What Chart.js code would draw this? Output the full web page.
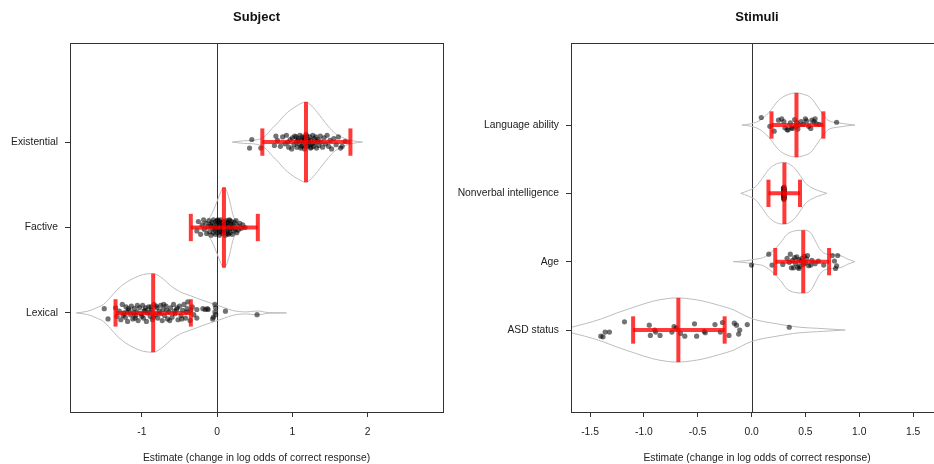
<!DOCTYPE html>
<html><head><meta charset="utf-8">
<script src="https://cdn.jsdelivr.net/npm/chart.js@4/dist/chart.umd.min.js"></script>
<style>
html,body{margin:0;padding:0;background:#fff;overflow:hidden;width:934px;height:464px;}
#p1{position:absolute;left:0;top:0;width:467px;height:464px;}
#p2{position:absolute;left:440px;top:0;width:527px;height:464px;}
canvas{display:block;}
</style></head><body>
<div id="p1"><canvas id="c1" width="467" height="464"></canvas></div>
<div id="p2"><canvas id="c2" width="527" height="464"></canvas></div>
<script>
// ---------------- DATA ----------------
const xAxisTitle = "Estimate (change in log odds of correct response)";

// Subject panel
const subjectTitle = "Subject";
const subjectCategories = ["Lexical", "Factive", "Existential"];
const subjectMeans = [-0.85, 0.09, 1.18];
const subjectCILow = [-1.35, -0.35, 0.60];
const subjectCIHigh = [-0.35, 0.54, 1.77];
const subjectTicks = [-1, 0, 1, 2];
const subjectTickLabels = ["-1", "0", "1", "2"];

// violin outlines: [estimate, half-width]
const violinLexical = [[-1.87,0],[-1.72,0.02],[-1.60,0.06],[-1.51,0.10],[-1.42,0.18],[-1.33,0.27],[-1.22,0.35],[-1.10,0.41],[-0.98,0.45],[-0.85,0.46],[-0.72,0.40],[-0.62,0.32],[-0.50,0.25],[-0.35,0.20],[-0.20,0.15],[-0.10,0.12],[0.00,0.09],[0.10,0.06],[0.20,0.03],[0.30,0.015],[0.40,0.012],[0.48,0.02],[0.56,0.022],[0.64,0.008],[0.75,0.003],[0.92,0]];
const violinFactive = [[-0.30,0],[-0.22,0.02],[-0.15,0.06],[-0.09,0.13],[-0.04,0.22],[0.00,0.31],[0.04,0.40],[0.09,0.47],[0.13,0.42],[0.17,0.30],[0.20,0.18],[0.23,0.10],[0.27,0.05],[0.32,0.02],[0.40,0]];
const violinExistential = [[0.20,0],[0.35,0.015],[0.55,0.03],[0.65,0.08],[0.73,0.16],[0.82,0.24],[0.90,0.32],[1.05,0.42],[1.18,0.47],[1.28,0.40],[1.39,0.28],[1.48,0.18],[1.57,0.10],[1.70,0.04],[1.80,0.015],[1.93,0]];

// jittered points: [estimate, vertical jitter]
const pointsLexical = [[-1.50,0.05],[-1.45,-0.07],[-1.35,0.06],[-1.33,-0.04],[-1.30,0.02],[-1.28,-0.08],[-1.26,0.10],[-1.24,0.00],[-1.22,-0.05],[-1.21,0.07],[-1.19,-0.10],[-1.17,0.03],[-1.15,-0.02],[-1.14,0.08],[-1.12,-0.07],[-1.10,0.05],[-1.08,-0.03],[-1.07,0.01],[-1.05,-0.09],[-1.03,0.06],[-1.01,-0.01],[-0.99,0.09],[-0.98,-0.06],[-0.96,0.03],[-0.94,-0.10],[-0.93,0.00],[-0.91,0.07],[-0.89,-0.04],[-0.87,0.04],[-0.86,-0.08],[-0.84,0.10],[-0.82,-0.02],[-0.80,0.06],[-0.79,-0.06],[-0.77,0.02],[-0.75,0.09],[-0.73,-0.09],[-0.72,0.04],[-0.70,-0.03],[-0.68,0.08],[-0.66,-0.07],[-0.64,0.01],[-0.62,0.06],[-0.60,-0.05],[-0.58,0.10],[-0.56,-0.01],[-0.54,0.04],[-0.52,-0.08],[-0.50,0.08],[-0.48,-0.03],[-0.46,0.03],[-0.44,0.10],[-0.42,-0.06],[-0.40,0.05],[-0.39,0.13],[-0.36,-0.09],[-0.33,0.07],[-0.31,-0.02],[-0.27,0.04],[-0.27,-0.06],[-0.19,0.05],[-0.16,0.04],[-0.13,0.05],[-0.12,0.04],[-0.05,-0.05],[-0.03,0.10],[-0.02,0.06],[-0.03,0.01],[-0.02,-0.02],[-0.06,-0.07],[0.11,0.02],[0.53,-0.02],[-1.25,-0.03],[-1.18,0.05],[-1.11,0.00],[-1.06,0.09],[-1.00,-0.04],[-0.95,0.06],[-0.90,0.01],[-0.85,-0.05],[-0.81,0.08],[-0.76,-0.01],[-0.71,0.10],[-0.67,0.03],[-0.63,-0.09],[-0.57,0.02],[-0.53,0.06],[-0.47,-0.07],[-0.41,0.01],[-0.35,0.03],[-1.20,0.01],[-1.09,-0.06],[-0.97,0.02],[-0.88,0.07]];
const pointsFactive = [[-0.27,-0.04],[-0.25,0.07],[-0.22,-0.08],[-0.20,0.03],[-0.18,0.09],[-0.17,-0.02],[-0.15,0.05],[-0.14,-0.07],[-0.12,0.01],[-0.11,0.08],[-0.10,-0.05],[-0.09,0.04],[-0.08,-0.09],[-0.07,0.06],[-0.06,-0.01],[-0.05,0.09],[-0.05,-0.06],[-0.04,0.02],[-0.03,-0.03],[-0.02,0.07],[-0.02,-0.08],[-0.01,0.04],[0.00,-0.02],[0.00,0.08],[0.01,-0.06],[0.02,0.01],[0.02,0.05],[0.03,-0.09],[0.04,0.03],[0.04,-0.04],[0.05,0.09],[0.06,-0.01],[0.06,0.06],[0.07,-0.07],[0.08,0.02],[0.08,-0.03],[0.09,0.07],[0.10,-0.05],[0.10,0.04],[0.11,-0.09],[0.12,0.00],[0.12,0.08],[0.13,-0.04],[0.14,0.05],[0.14,-0.07],[0.15,0.02],[0.16,-0.02],[0.16,0.09],[0.17,-0.06],[0.18,0.04],[0.18,-0.01],[0.19,0.07],[0.20,-0.08],[0.21,0.03],[0.22,-0.04],[0.23,0.06],[0.24,-0.02],[0.25,0.08],[0.26,-0.06],[0.27,0.02],[0.28,-0.03],[0.30,0.05],[0.32,-0.01],[0.34,0.03],[0.37,0.00],[0.07,0.01],[0.11,0.03],[0.13,0.06],[0.05,-0.05],[0.09,-0.02],[0.15,-0.08],[0.03,0.07],[-0.03,0.00],[0.01,0.09],[0.20,0.01],[-0.08,0.02],[0.17,0.08],[0.10,0.00]];
const pointsExistential = [[0.43,-0.07],[0.46,0.03],[0.58,-0.07],[0.76,-0.04],[0.78,0.07],[0.80,0.02],[0.84,-0.05],[0.87,0.06],[0.90,-0.02],[0.92,0.08],[0.94,0.00],[0.95,-0.06],[0.97,0.03],[0.99,-0.08],[1.00,0.05],[1.02,-0.03],[1.03,0.07],[1.05,0.00],[1.05,0.06],[1.06,-0.06],[1.07,0.02],[1.08,0.04],[1.09,-0.02],[1.10,0.08],[1.11,-0.07],[1.12,0.02],[1.12,-0.05],[1.13,0.06],[1.14,-0.04],[1.15,0.01],[1.15,0.05],[1.16,-0.08],[1.17,0.05],[1.18,-0.01],[1.18,0.09],[1.19,0.07],[1.20,-0.05],[1.20,0.01],[1.21,0.03],[1.22,-0.03],[1.22,0.00],[1.23,0.06],[1.24,-0.07],[1.25,0.02],[1.25,-0.06],[1.26,-0.02],[1.27,0.08],[1.28,-0.05],[1.29,0.04],[1.30,-0.01],[1.31,0.06],[1.32,-0.07],[1.33,0.01],[1.34,0.03],[1.35,-0.04],[1.37,0.07],[1.38,0.00],[1.40,-0.06],[1.42,0.05],[1.44,-0.02],[1.46,0.08],[1.48,-0.05],[1.50,0.02],[1.52,-0.08],[1.55,0.04],[1.58,-0.03],[1.61,0.06],[1.64,-0.07],[1.66,-0.05],[1.70,0.01]];

// Stimuli panel
const stimuliTitle = "Stimuli";
const stimuliCategories = ["ASD status", "Age", "Nonverbal intelligence", "Language ability"];
const stimuliMeans = [-0.68, 0.48, 0.305, 0.417];
const stimuliCILow = [-1.10, 0.22, 0.157, 0.185];
const stimuliCIHigh = [-0.25, 0.72, 0.45, 0.667];
const stimuliTicks = [-1.5, -1.0, -0.5, 0.0, 0.5, 1.0, 1.5];
const stimuliTickLabels = ["-1.5", "-1.0", "-0.5", "0.0", "0.5", "1.0", "1.5"];

const violinASD = [[-1.70,0.03],[-1.55,0.09],[-1.40,0.16],[-1.25,0.25],[-1.08,0.34],[-0.92,0.42],[-0.78,0.46],[-0.68,0.47],[-0.55,0.45],[-0.47,0.43],[-0.30,0.36],[-0.16,0.29],[-0.05,0.20],[0.06,0.14],[0.20,0.10],[0.31,0.07],[0.45,0.04],[0.61,0.025],[0.87,0]];
const violinAge = [[-0.17,0],[-0.05,0.015],[0.05,0.04],[0.11,0.06],[0.20,0.16],[0.27,0.28],[0.33,0.40],[0.40,0.45],[0.48,0.46],[0.55,0.42],[0.60,0.28],[0.64,0.17],[0.70,0.11],[0.78,0.10],[0.84,0.08],[0.89,0.04],[0.96,0]];
const violinNonverbal = [[-0.10,0],[-0.03,0.04],[0.04,0.10],[0.10,0.22],[0.16,0.35],[0.23,0.43],[0.305,0.45],[0.36,0.42],[0.41,0.35],[0.46,0.24],[0.50,0.15],[0.55,0.09],[0.62,0.04],[0.70,0]];
const violinLanguage = [[-0.09,0],[0.00,0.02],[0.08,0.07],[0.16,0.18],[0.25,0.36],[0.33,0.44],[0.417,0.47],[0.48,0.45],[0.55,0.40],[0.62,0.25],[0.67,0.14],[0.71,0.07],[0.81,0.03],[0.96,0]];

const pointsASD = [[-1.40,-0.09],[-1.38,-0.10],[-1.36,-0.03],[-1.32,-0.03],[-1.18,0.12],[-0.95,0.07],[-0.94,-0.08],[-0.90,0.00],[-0.89,-0.03],[-0.85,-0.08],[-0.74,-0.03],[-0.72,0.05],[-0.70,0.03],[-0.66,-0.05],[-0.62,-0.09],[-0.53,0.09],[-0.51,-0.09],[-0.44,-0.02],[-0.43,-0.04],[-0.34,0.08],[-0.29,-0.03],[-0.27,0.11],[-0.21,-0.08],[-0.16,0.10],[-0.14,0.07],[-0.11,0.00],[-0.12,-0.06],[-0.04,0.08],[0.35,0.04]];
const pointsAge = [[0.00,-0.05],[0.16,0.11],[0.19,-0.05],[0.29,-0.04],[0.33,0.05],[0.35,-0.01],[0.36,0.11],[0.37,-0.09],[0.38,0.02],[0.39,-0.09],[0.40,0.06],[0.41,-0.03],[0.42,0.07],[0.43,-0.08],[0.44,0.03],[0.44,-0.10],[0.45,-0.07],[0.46,0.01],[0.47,0.05],[0.48,-0.04],[0.49,0.08],[0.50,-0.02],[0.51,0.04],[0.52,0.09],[0.53,-0.06],[0.55,-0.05],[0.56,0.02],[0.59,-0.03],[0.62,0.01],[0.67,-0.05],[0.75,0.09],[0.77,0.01],[0.78,-0.10],[0.79,-0.06],[0.80,0.09]];
const pointsNonverbal = [[0.298,0.08],[0.302,0.06],[0.300,0.04],[0.305,0.02],[0.297,0.00],[0.303,-0.02],[0.299,-0.04],[0.304,-0.06],[0.301,-0.08],[0.296,0.07],[0.306,0.05],[0.298,0.03],[0.302,0.01],[0.300,-0.01],[0.297,-0.03],[0.304,-0.05],[0.299,-0.07],[0.303,0.09],[0.301,-0.09],[0.300,0.00]];
const pointsLanguage = [[0.09,0.11],[0.17,-0.02],[0.21,-0.09],[0.25,0.07],[0.28,0.09],[0.30,0.05],[0.31,-0.04],[0.33,-0.07],[0.34,-0.07],[0.36,0.03],[0.37,-0.04],[0.38,-0.05],[0.40,0.08],[0.41,-0.02],[0.42,0.04],[0.43,-0.06],[0.44,0.00],[0.46,0.05],[0.48,0.01],[0.50,0.09],[0.51,0.06],[0.53,-0.02],[0.55,-0.05],[0.56,0.07],[0.58,0.05],[0.59,0.09],[0.60,0.02],[0.63,0.01],[0.79,0.04]];

// ---------------- STYLE ----------------
const FONT = "'Liberation Sans', Arial, sans-serif";
const FSIZE = 10.3;
const RED = "rgba(255,0,0,0.78)";
const VIOLIN = "#bdbdbd";
const PT = "rgba(0,0,0,0.55)";
const AXIS = "#333333";

function makePanel(canvasId, cfg) {
  const datasets = [];
  cfg.violins.forEach((v, i) => {
    const c = i + 1;
    ['up', 'down'].forEach(side => {
      datasets.push({
        type: 'line', order: 3,
        data: v.map(([x, h]) => ({x: x, y: side === 'up' ? c + h : c - h})),
        borderColor: VIOLIN, borderWidth: 1, pointRadius: 0,
        cubicInterpolationMode: 'monotone', fill: false
      });
    });
  });
  cfg.points.forEach((p, i) => {
    const c = i + 1;
    datasets.push({
      type: 'line', order: 2, showLine: false,
      data: p.map(([x, d]) => ({x: x, y: c + d})),
      pointRadius: 2.6, pointBackgroundColor: PT, pointBorderWidth: 0, pointBorderColor: 'rgba(0,0,0,0)'
    });
  });
  const seg = (pts) => ({
    type: 'line', order: 1, data: pts, borderColor: RED, borderWidth: 4,
    pointRadius: 0, borderCapStyle: 'butt', fill: false
  });
  cfg.means.forEach((m, i) => {
    const c = i + 1;
    const half = Math.max(...cfg.violins[i].map(a => a[1]));
    datasets.push(seg([{x: cfg.ciLow[i], y: c}, {x: cfg.ciHigh[i], y: c}]));
    datasets.push(seg([{x: cfg.ciLow[i], y: c - cfg.cap}, {x: cfg.ciLow[i], y: c + cfg.cap}]));
    datasets.push(seg([{x: cfg.ciHigh[i], y: c - cfg.cap}, {x: cfg.ciHigh[i], y: c + cfg.cap}]));
    datasets.push(seg([{x: m, y: c - half}, {x: m, y: c + half}]));
  });

  const framePlugin = {
    id: 'frame',
    beforeDatasetsDraw(chart) {
      const {ctx, chartArea: a, scales} = chart;
      const x0 = Math.round(scales.x.getPixelForValue(0)) + 0.5;
      ctx.save();
      ctx.strokeStyle = AXIS; ctx.lineWidth = 1;
      ctx.beginPath(); ctx.moveTo(x0, a.top); ctx.lineTo(x0, a.bottom); ctx.stroke();
      ctx.restore();
    },
    afterDraw(chart) {
      const {ctx, chartArea: a} = chart;
      ctx.save();
      ctx.strokeStyle = AXIS; ctx.lineWidth = 1;
      ctx.strokeRect(Math.round(a.left) + 0.5, Math.round(a.top) + 0.5, Math.round(a.right - a.left), Math.round(a.bottom - a.top));
      ctx.fillStyle = '#111';
      ctx.font = "bold 13px " + FONT;
      ctx.textAlign = 'center'; ctx.textBaseline = 'middle';
      ctx.fillText(cfg.title, (a.left + a.right) / 2, 17);
      ctx.restore();
    }
  };

  return new Chart(document.getElementById(canvasId), {
    type: 'line',
    data: {datasets},
    plugins: [framePlugin],
    options: {
      responsive: false, animation: false, events: [],
      layout: {padding: {top: 43, right: cfg.padRight, left: 0, bottom: 0}},
      plugins: {legend: {display: false}, tooltip: {enabled: false}, title: {display: false}},
      scales: {
        x: {
          type: 'linear', min: cfg.xmin, max: cfg.xmax,
          afterBuildTicks: s => { s.ticks = cfg.ticks.map(v => ({value: v})); },
          afterFit: s => { s.height = 52; },
          border: {display: false},
          grid: {drawOnChartArea: false, drawTicks: true, tickLength: 5, color: AXIS, lineWidth: 1},
          ticks: {
            autoSkip: false, maxRotation: 0, padding: 9, color: '#222',
            font: {family: FONT, size: FSIZE},
            callback: (v) => cfg.tickLabels[cfg.ticks.indexOf(v)]
          },
          title: {display: true, text: xAxisTitle, color: '#222', font: {family: FONT, size: FSIZE}, padding: {top: 0, bottom: 0}}
        },
        y: {
          type: 'linear', min: cfg.ymin, max: cfg.ymax,
          afterBuildTicks: s => { s.ticks = cfg.categories.map((c, i) => ({value: i + 1})); },
          afterFit: s => { s.width = cfg.yWidth; },
          border: {display: false},
          grid: {drawOnChartArea: false, drawTicks: true, tickLength: 5, color: AXIS, lineWidth: 1},
          ticks: {
            autoSkip: false, padding: 7, color: '#222',
            font: {family: FONT, size: FSIZE},
            callback: (v) => cfg.categories[Math.round(v) - 1]
          }
        }
      }
    }
  });
}

makePanel('c1', {
  title: subjectTitle, categories: subjectCategories,
  means: subjectMeans, ciLow: subjectCILow, ciHigh: subjectCIHigh,
  violins: [violinLexical, violinFactive, violinExistential],
  points: [pointsLexical, pointsFactive, pointsExistential],
  ticks: subjectTicks, tickLabels: subjectTickLabels,
  xmin: -1.955, xmax: 3.0, ymin: -0.16, ymax: 4.16,
  cap: 0.16, yWidth: 70, padRight: 24
});

makePanel('c2', {
  title: stimuliTitle, categories: stimuliCategories,
  means: stimuliMeans, ciLow: stimuliCILow, ciHigh: stimuliCIHigh,
  violins: [violinASD, violinAge, violinNonverbal, violinLanguage],
  points: [pointsASD, pointsAge, pointsNonverbal, pointsLanguage],
  ticks: stimuliTicks, tickLabels: stimuliTickLabels,
  xmin: -1.677, xmax: 1.778, ymin: -0.2, ymax: 5.2,
  cap: 0.2, yWidth: 131, padRight: 24
});
</script>
</body></html>
